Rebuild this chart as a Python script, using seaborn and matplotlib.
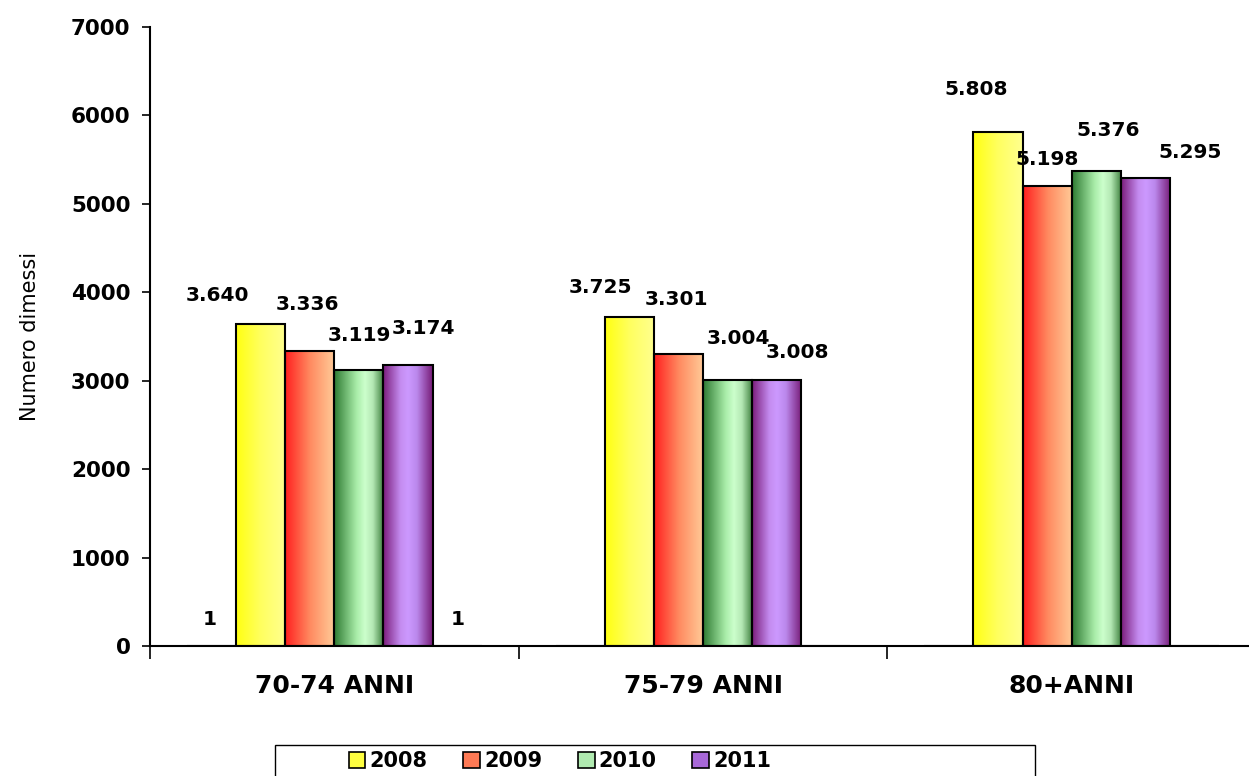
import numpy as np
import pandas as pd
import matplotlib
matplotlib.use('Agg')
import matplotlib.pyplot as plt
import seaborn as sns
from matplotlib.colors import LinearSegmentedColormap
from matplotlib.patches import Patch, Rectangle

# dati
categorie = ['70-74 ANNI', '75-79 ANNI', '80+ANNI']
serie = ['extra_sx', '2008', '2009', '2010', '2011', 'extra_dx']
anni = ['2008', '2009', '2010', '2011']
v_extra_sx = [1, 0, 0]
v_2008 = [3640, 3725, 5808]
v_2009 = [3336, 3301, 5198]
v_2010 = [3119, 3004, 5376]
v_2011 = [3174, 3008, 5295]
v_extra_dx = [1, 0, 0]
valori = [v_extra_sx, v_2008, v_2009, v_2010, v_2011, v_extra_dx]

# stile: scostamento delle etichette (pixel) rispetto al centro alto della barra
offset = {
    'extra_sx': [(-2, 26), (0, 0), (0, 0)],
    '2008': [(-43, 29), (-29, 29), (-22, 43)],
    '2009': [(-2, 47), (-2, 55), (0, 27)],
    '2010': [(0, 35), (11, 42), (12, 40)],
    '2011': [(15, 37), (21, 28), (45, 25)],
    'extra_dx': [(0, 26), (0, 0), (0, 0)],
}
gradienti = {
    'extra_sx': ['#ffffff', '#ffffff'],
    '2008': ['#ffff10', '#ffff60', '#ffff90'],
    '2009': ['#ff1f1f', '#ff8a60', '#ffcc99'],
    '2010': [(0, '#2e7a32'), (0.45, '#a8eca8'), (0.62, '#ccffcc'),
             (0.78, '#b4e8b4'), (1, '#3a7c3a')],
    '2011': [(0, '#7a1c7a'), (0.35, '#c48cf0'), (0.5, '#cc99ff'),
             (0.68, '#bb88ec'), (1, '#761a76')],
    'extra_dx': ['#ffffff', '#ffffff'],
}
colori_legenda = {'2008': '#ffff40', '2009': '#ff7a55', '2010': '#b0eab0', '2011': '#a868d8'}

righe = []
for s, vals in zip(serie, valori):
    for c, v in zip(categorie, vals):
        righe.append({'Fascia': c, 'Serie': s, 'Dimessi': v})
df = pd.DataFrame(righe)

sns.set_style('white')
plt.rcParams['font.family'] = ['DejaVu Sans']
plt.rcParams['text.color'] = 'black'
plt.rcParams['axes.labelcolor'] = 'black'
plt.rcParams['xtick.color'] = 'black'
plt.rcParams['ytick.color'] = 'black'

fig = plt.figure(figsize=(12.49, 7.76), dpi=100)
ax = fig.add_axes([150 / 1249, 130 / 776, 1106 / 1249, 619 / 776])

palette = {s: 'white' for s in serie}
sns.barplot(data=df, x='Fascia', y='Dimessi', hue='Serie', hue_order=serie,
            order=categorie, palette=palette, width=0.8, errorbar=None,
            edgecolor='black', linewidth=1.5, legend=False, ax=ax)

# riempimento a gradiente orizzontale
for s, cont in zip(serie, ax.containers):
    cmap = LinearSegmentedColormap.from_list(s, gradienti[s])
    grad = np.linspace(0, 1, 256).reshape(1, -1)
    for i, bar in enumerate(cont):
        h = bar.get_height()
        x0 = bar.get_x()
        w = bar.get_width()
        bar.set_facecolor('none')
        bar.set_zorder(3)
        if h > 0:
            im = ax.imshow(grad, cmap=cmap, aspect='auto', extent=(x0, x0 + w, 0, h),
                           zorder=2, interpolation='bicubic')
            im.set_clip_path(bar)
            dx, dy = offset[s][i]
            testo = f'{int(h):,}'.replace(',', '.')
            ax.annotate(testo, xy=(x0 + w / 2, h), xytext=(dx * 0.72, dy * 0.72),
                        textcoords='offset points', ha='center', va='center',
                        fontsize=14.5, fontweight='bold', color='black', zorder=5)

ax.set_xlim(-0.5, 2.5)
ax.set_ylim(0, 7000)
ax.set_yticks(range(0, 7001, 1000))
ax.tick_params(axis='y', direction='out', length=6, width=1.2, left=True,
               labelsize=15.5, pad=8)
for t in ax.get_yticklabels():
    t.set_fontweight('bold')
ax.set_xticks(range(len(categorie)))
ax.set_xticklabels(categorie, fontsize=18, fontweight='bold')
ax.tick_params(axis='x', length=0, pad=20)
ax.set_xticks([-0.5, 0.5, 1.5, 2.5], minor=True)
ax.tick_params(axis='x', which='minor', direction='out', length=9, width=1.2, bottom=True)
ax.set_xlabel('')
ax.set_ylabel('Numero dimessi', fontsize=15, labelpad=22)
for lato in ['top', 'right']:
    ax.spines[lato].set_visible(False)
for lato in ['left', 'bottom']:
    ax.spines[lato].set_color('black')
    ax.spines[lato].set_linewidth(1.5)

handles = [Patch(facecolor=colori_legenda[a], edgecolor='black', linewidth=1.2) for a in anni]
fig.legend(handles, anni, loc='center', bbox_to_anchor=(330 / 1249, 0.0, 460 / 1249, 0.038),
           mode='expand', ncol=4, frameon=False, handlelength=0.8, handleheight=0.8,
           handletextpad=0.2, prop={'size': 15, 'weight': 'bold'})
fig.add_artist(Rectangle((275 / 1249, -0.05), 760 / 1249, 31 / 776 + 0.05,
                         transform=fig.transFigure, fill=False, edgecolor='black', linewidth=1))

fig.savefig('out.png', dpi=100)
